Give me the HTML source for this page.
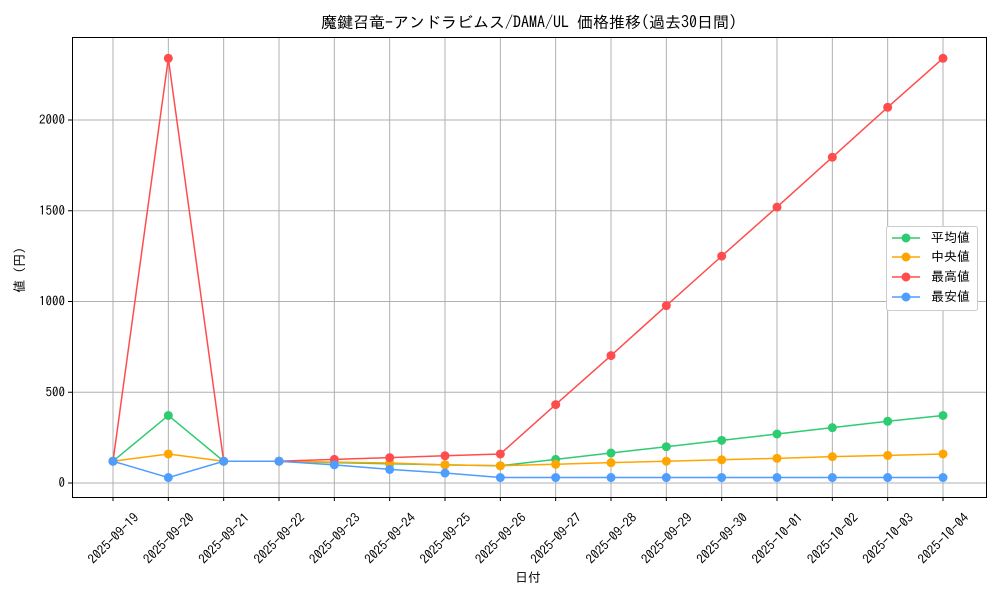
<!DOCTYPE html>
<html><head><meta charset="utf-8"><style>
body{margin:0;background:#fff;}
svg{display:block;font-family:"IPAGothic","Noto Sans CJK JP",monospace;}
</style></head><body>
<svg width="1000" height="600" viewBox="0 0 1000 600" xmlns="http://www.w3.org/2000/svg">
<rect width="1000" height="600" fill="#fff"/>
<text x="529" y="28" font-size="16" text-anchor="middle" fill="#000">魔鍵召竜-アンドラビムス/DAMA/UL 価格推移(過去30日間)</text>
<g id="grid" stroke="#b0b0b0" stroke-width="1"></g>
<rect x="72.5" y="37.5" width="914" height="460" fill="none" stroke="#000" stroke-width="1"/>
<g id="ticks" font-size="13" fill="#000"></g>
<text x="528" y="582" font-size="13" text-anchor="middle">日付</text>
<text x="24" y="270" font-size="13" text-anchor="middle" transform="rotate(-90 24 270)">値 (円)</text>
<g id="series"></g>
<g>
<rect x="886.5" y="226.5" width="91" height="84" fill="#fff" stroke="#ccc" rx="2"/>
<line x1="892" y1="238" x2="920" y2="238" stroke="#2ecc71" stroke-width="1.5"/><circle cx="906" cy="238" r="4.5" fill="#2ecc71"/><text x="931" y="242" font-size="13">平均値</text>
<line x1="892" y1="257" x2="920" y2="257" stroke="#ffa500" stroke-width="1.5"/><circle cx="906" cy="257" r="4.5" fill="#ffa500"/><text x="931" y="261" font-size="13">中央値</text>
<line x1="892" y1="277" x2="920" y2="277" stroke="#ff4d4d" stroke-width="1.5"/><circle cx="906" cy="277" r="4.5" fill="#ff4d4d"/><text x="931" y="281" font-size="13">最高値</text>
<line x1="892" y1="297" x2="920" y2="297" stroke="#4d9eff" stroke-width="1.5"/><circle cx="906" cy="297" r="4.5" fill="#4d9eff"/><text x="931" y="301" font-size="13">最安値</text>
</g>
</svg>
<script>
const NS="http://www.w3.org/2000/svg";
function el(p,t,a,txt){const e=document.createElementNS(NS,t);for(const k in a)e.setAttribute(k,a[k]);if(txt!==undefined)e.textContent=txt;p.appendChild(e);return e;}
const X=i=>113+i*(830/15), Y=v=>483-v*0.1815;
const g=document.getElementById('grid'),tk=document.getElementById('ticks'),s=document.getElementById('series');
const dates=["2025-09-19","2025-09-20","2025-09-21","2025-09-22","2025-09-23","2025-09-24","2025-09-25","2025-09-26","2025-09-27","2025-09-28","2025-09-29","2025-09-30","2025-10-01","2025-10-02","2025-10-03","2025-10-04"];
dates.forEach((d,i)=>{const x=X(i);el(g,'line',{x1:x,y1:37,x2:x,y2:497});el(tk,'line',{x1:x,y1:497,x2:x,y2:501,stroke:'#000'});
el(tk,'text',{x:x,y:543,'text-anchor':'middle',transform:`rotate(-45 ${x} 538)`},d);});
[0,500,1000,1500,2000].forEach(v=>{const y=Y(v);el(g,'line',{x1:72,y1:y,x2:987,y2:y});el(tk,'line',{x1:68,y1:y,x2:72,y2:y,stroke:'#000'});el(tk,'text',{x:65,y:y+4,'text-anchor':'end'},v);});
const data=[
["#2ecc71",[120,372,120,120,112,106,100,95,130,165,200,235,270,305,340,372]],
["#ffa500",[120,160,120,120,115,110,100,95,103,112,120,128,136,145,152,160]],
["#ff4d4d",[120,2340,120,120,130,140,150,160,432,702,977,1250,1520,1795,2070,2340]],
["#4d9eff",[120,30,120,120,100,75,55,30,30,30,30,30,30,30,30,30]]];
data.forEach(([c,v])=>{el(s,'polyline',{points:v.map((y,i)=>X(i)+','+Y(y)).join(' '),fill:'none',stroke:c,'stroke-width':1.5});
v.forEach((y,i)=>el(s,'circle',{cx:X(i),cy:Y(y),r:4.5,fill:c}));});
</script>
</body></html>
